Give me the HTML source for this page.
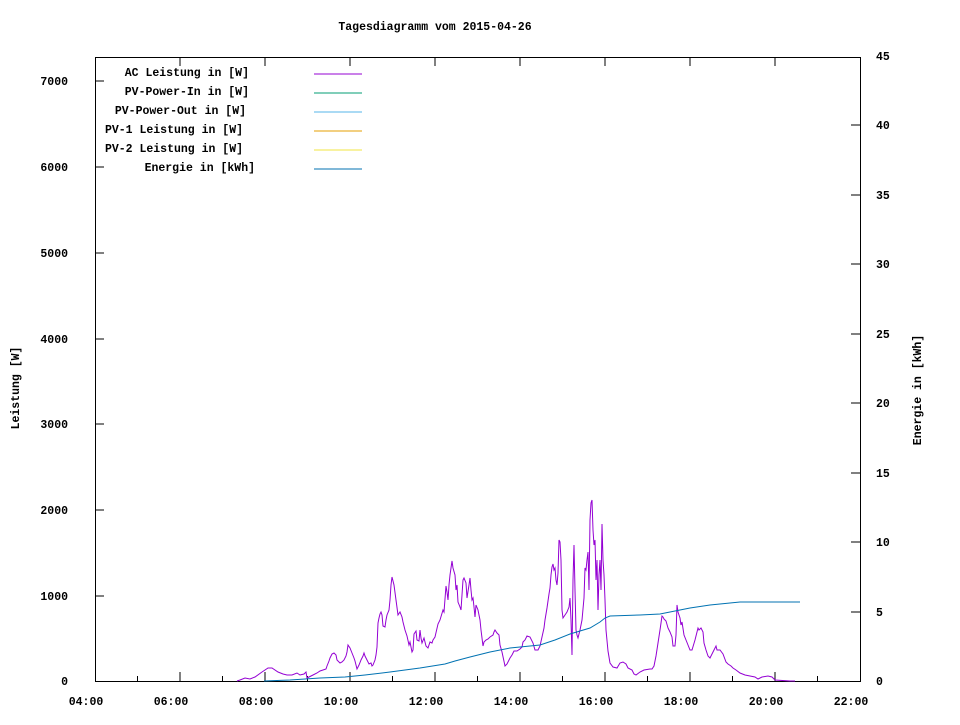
<!DOCTYPE html>
<html><head><meta charset="utf-8"><style>
body{margin:0;background:#fff}
svg text{font-family:"Liberation Mono","DejaVu Sans Mono",monospace;font-size:11.5px;font-weight:bold;fill:#000}
</style></head><body>
<svg width="960" height="720" viewBox="0 0 960 720" xmlns="http://www.w3.org/2000/svg">
<rect width="960" height="720" fill="#fff"/>
<text x="435" y="30" text-anchor="middle">Tagesdiagramm vom 2015-04-26</text>
<rect x="95.5" y="57.5" width="765" height="624" fill="none" stroke="#000"/>
<g stroke="#000">
<line x1="95" y1="596" x2="104" y2="596"/><line x1="95" y1="510" x2="104" y2="510"/><line x1="95" y1="424" x2="104" y2="424"/><line x1="95" y1="339" x2="104" y2="339"/><line x1="95" y1="253" x2="104" y2="253"/><line x1="95" y1="167" x2="104" y2="167"/><line x1="95" y1="81" x2="104" y2="81"/>
<line x1="860" y1="612" x2="851" y2="612"/><line x1="860" y1="542" x2="851" y2="542"/><line x1="860" y1="473" x2="851" y2="473"/><line x1="860" y1="403" x2="851" y2="403"/><line x1="860" y1="334" x2="851" y2="334"/><line x1="860" y1="264" x2="851" y2="264"/><line x1="860" y1="195" x2="851" y2="195"/><line x1="860" y1="125" x2="851" y2="125"/>
</g>
<g stroke="#000">
<line x1="180" y1="681" x2="180" y2="672"/><line x1="265" y1="681" x2="265" y2="672"/><line x1="350" y1="681" x2="350" y2="672"/><line x1="435" y1="681" x2="435" y2="672"/><line x1="520" y1="681" x2="520" y2="672"/><line x1="605" y1="681" x2="605" y2="672"/><line x1="690" y1="681" x2="690" y2="672"/><line x1="775" y1="681" x2="775" y2="672"/>
<line x1="137.5" y1="681" x2="137.5" y2="676"/><line x1="222.5" y1="681" x2="222.5" y2="676"/><line x1="307.5" y1="681" x2="307.5" y2="676"/><line x1="392.5" y1="681" x2="392.5" y2="676"/><line x1="477.5" y1="681" x2="477.5" y2="676"/><line x1="562.5" y1="681" x2="562.5" y2="676"/><line x1="647.5" y1="681" x2="647.5" y2="676"/><line x1="732.5" y1="681" x2="732.5" y2="676"/><line x1="817.5" y1="681" x2="817.5" y2="676"/>
<line x1="180" y1="57" x2="180" y2="66"/><line x1="265" y1="57" x2="265" y2="66"/><line x1="350" y1="57" x2="350" y2="66"/><line x1="435" y1="57" x2="435" y2="66"/><line x1="520" y1="57" x2="520" y2="66"/><line x1="605" y1="57" x2="605" y2="66"/><line x1="690" y1="57" x2="690" y2="66"/><line x1="775" y1="57" x2="775" y2="66"/>
</g>
<g text-anchor="end">
<text x="68" y="685">0</text><text x="68" y="600">1000</text><text x="68" y="514">2000</text><text x="68" y="428">3000</text><text x="68" y="343">4000</text><text x="68" y="257">5000</text><text x="68" y="171">6000</text><text x="68" y="85">7000</text>
</g>
<g>
<text x="876" y="685">0</text><text x="876" y="616">5</text><text x="876" y="546">10</text><text x="876" y="477">15</text><text x="876" y="407">20</text><text x="876" y="338">25</text><text x="876" y="268">30</text><text x="876" y="199">35</text><text x="876" y="129">40</text><text x="876" y="60">45</text>
</g>
<g text-anchor="middle">
<text x="86" y="705">04:00</text><text x="171" y="705">06:00</text><text x="256" y="705">08:00</text><text x="341" y="705">10:00</text><text x="426" y="705">12:00</text><text x="511" y="705">14:00</text><text x="596" y="705">16:00</text><text x="681" y="705">18:00</text><text x="766" y="705">20:00</text><text x="851" y="705">22:00</text>
</g>
<text transform="translate(19,388) rotate(-90)" text-anchor="middle">Leistung [W]</text>
<text transform="translate(921,390) rotate(-90)" text-anchor="middle">Energie in [kWh]</text>
<g text-anchor="end">
<text x="249" y="76">AC Leistung in [W]</text>
<text x="249" y="95">PV-Power-In in [W]</text>
<text x="246" y="114">PV-Power-Out in [W]</text>
<text x="243" y="133">PV-1 Leistung in [W]</text>
<text x="243" y="152">PV-2 Leistung in [W]</text>
<text x="255" y="171">Energie in [kWh]</text>
</g>
<line x1="314" y1="74" x2="362" y2="74" stroke="#9400d3"/>
<line x1="314" y1="93" x2="362" y2="93" stroke="#009e73"/>
<line x1="314" y1="112" x2="362" y2="112" stroke="#56b4e9"/>
<line x1="314" y1="131" x2="362" y2="131" stroke="#e69f00"/>
<line x1="314" y1="150" x2="362" y2="150" stroke="#f0e442"/>
<line x1="314" y1="169" x2="362" y2="169" stroke="#0072b2"/>
<polyline fill="none" stroke="#9400d3" stroke-width="1" points="237,681 240,680 245,678 250,679 255,677 262,672 268,668 272,668 278,672 283,674 287,675 292,675 297,673 300,675 304,674 306,672 307,678 309,677 313,675 317,673 320,671 323,670 326,669 327,666 329,661 330,658 332,654 334,653 336,655 337,660 339,662 340,663 342,662 344,660 346,656 347,652 348,645 350,648 352,653 354,658 355,661 357,669 359,665 361,660 363,656 364,653 365,656 367,660 369,664 371,663 372,666 373,665 375,660 376,655 377,647 378,623 379,618 380,614 381,612 382,615 383,626 385,627 386,620 387,615 389,610 390,600 391,585 392,577 394,585 396,600 398,615 400,612 402,617 403,622 405,630 407,636 409,645 410,642 412,652 413,650 414,634 416,631 417,640 419,641 420,630 421,638 422,643 424,638 426,646 428,648 430,642 432,643 433,640 435,637 438,624 440,620 443,610 444,612 446,586 447,592 448,600 449,585 450,575 452,561 453,568 455,575 456,590 457,585 458,602 460,607 461,610 462,595 463,580 464,578 466,583 467,598 469,585 470,578 471,590 472,600 473,598 474,607 475,617 476,605 478,610 480,620 481,630 483,646 484,642 486,640 488,639 490,637 493,635 494,632 495,630 497,633 499,635 500,645 502,652 505,666 507,664 510,658 512,655 514,651 517,651 520,649 522,647 523,642 525,640 527,636 530,637 533,643 535,650 538,650 540,646 542,637 544,628 545,620 547,608 549,594 550,588 551,575 552,567 553,564 554,570 555,568 556,580 557,585 558,573 559,540 560,542 561,560 562,610 563,618 565,615 567,612 569,607 570,598 571,620 572,655 573,580 574,545 575,590 576,630 577,635 578,638 580,630 582,620 584,598 585,568 586,570 587,560 588,552 589,590 590,520 591,503 592,500 593,530 594,545 595,540 596,580 597,560 598,610 599,575 600,560 601,590 602,524 603,560 604,575 605,600 606,630 608,651 610,663 613,667 617,668 620,663 623,662 626,664 628,668 632,670 634,674 636,675 640,672 644,670 650,669 652,669 654,666 656,656 658,643 660,630 662,616 663,617 664,619 666,621 668,628 670,632 672,637 673,646 675,646 676,635 677,605 678,612 679,615 680,618 681,625 682,622 684,635 686,640 688,645 690,650 692,650 695,640 698,628 699,630 701,628 703,632 704,643 706,650 708,656 710,658 712,654 714,650 716,646 717,650 720,650 723,654 726,662 728,664 731,666 733,668 736,670 740,673 745,675 750,676 755,677 758,679 762,677 768,676 772,677 775,680 790,681 795,681"/>
<polyline fill="none" stroke="#0072b2" stroke-width="1" points="264,681 290,680 320,678 345,677 365,675 390,672 420,668 445,664 455,661 470,657 490,652 510,648 540,645 555,640 570,634 590,628 600,622 605,618 610,616 640,615 660,614 680,610 690,608 710,605 740,602 770,602 800,602"/>
</svg>
</body></html>
